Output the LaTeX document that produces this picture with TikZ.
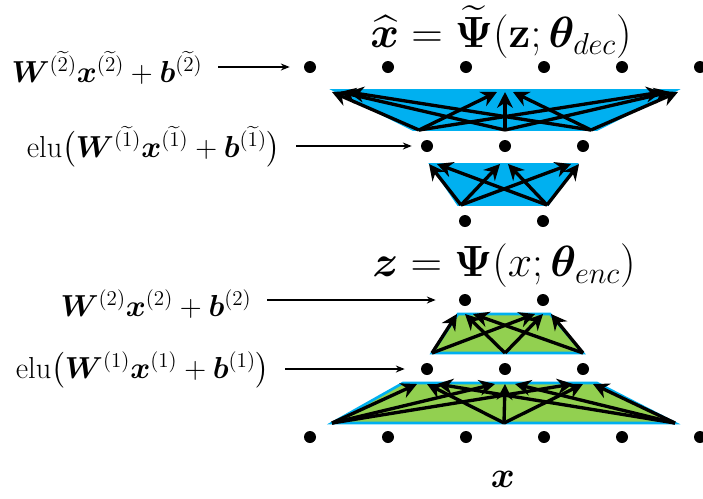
\documentclass[tikz,border=0pt]{standalone}
\usepackage{amsmath}
\usepackage{amssymb}
\usepackage{bm}
\usepackage{xcolor}
\usepackage{tikz}
\usetikzlibrary{arrows.meta, positioning, calc}
\definecolor{layerblue}{HTML}{00B0F0}
\definecolor{layergreen}{HTML}{92D050}

\begin{document}
\begin{tikzpicture}[x=0.02cm, y=-0.02cm, >=Stealth]
    \tikzstyle{neuron} = [circle, fill=black, inner sep=0pt, minimum size=0.24cm]
    \tikzstyle{formula} = [anchor=east, inner xsep=0.3cm, inner ysep=0pt, font=\fontsize{17}{20}\selectfont]
    \tikzstyle{heading} = [inner sep=0pt, font=\fontsize{23.5}{28}\selectfont]
    \tikzstyle{wire} = [draw, line width=1.9pt, -{Stealth[length=9pt, width=9pt]}]
    \tikzstyle{pointer} = [draw, line width=0.8pt, -{Stealth[length=5pt, width=4pt]}]
    \tikzstyle{bluelayer} = [fill=layerblue, draw=layerblue, line width=1pt]
    \tikzstyle{greenlayer} = [fill=layergreen, draw=layerblue, line width=1.5pt]

    \useasboundingbox (0,0) rectangle (703,498);

    % input layer
    \node [neuron] (x1) at (310,437) {};
    \node [neuron] (x2) at (388,437) {};
    \node [neuron] (x3) at (466,437) {};
    \node [neuron] (x4) at (544,437) {};
    \node [neuron] (x5) at (622,437) {};
    \node [neuron] (x6) at (700,437) {};
    % encoder
    \node [neuron] (h1) at (427,369) {};
    \node [neuron] (h2) at (505,369) {};
    \node [neuron] (h3) at (583,369) {};
    \node [neuron] (z1) at (465,300) {};
    \node [neuron] (z2) at (543,300) {};
    % decoder
    \node [neuron] (dz1) at (465,221) {};
    \node [neuron] (dz2) at (543,221) {};
    \node [neuron] (g1) at (427,146) {};
    \node [neuron] (g2) at (505,146) {};
    \node [neuron] (g3) at (583,146) {};
    \node [neuron] (y1) at (310,67) {};
    \node [neuron] (y2) at (388,67) {};
    \node [neuron] (y3) at (466,67) {};
    \node [neuron] (y4) at (544,67) {};
    \node [neuron] (y5) at (622,67) {};
    \node [neuron] (y6) at (700,67) {};

    % layer bodies
    \path [greenlayer] (332,423) -- (675,423) -- (597,383) -- (403,383) -- cycle;
    \path [greenlayer] (432,353) -- (583,353) -- (550,314) -- (458,314) -- cycle;
    \path [bluelayer] (458,205) -- (548,205) -- (577,164) -- (430,164) -- cycle;
    \path [bluelayer] (413,130) -- (597,130) -- (677,90) -- (333,90) -- cycle;

    \coordinate (eL) at (332,423);
    \coordinate (eM) at (504,423);
    \coordinate (eR) at (675,423);
    \coordinate (fL) at (432,353);
    \coordinate (fM) at (505,353);
    \coordinate (fR) at (583,353);
    \coordinate (dL) at (433,164);
    \coordinate (dM) at (504,164);
    \coordinate (dR) at (575,164);
    \coordinate (cL) at (340,92);
    \coordinate (cM) at (505,92);
    \coordinate (cR) at (670,92);

    \foreach \s/\o in {eL/-10, eM/0, eR/10}
        \foreach \t in {h1, h2, h3}
            \path [wire] (\s) -- ($(\t)+(\o,15)$);
    \foreach \s/\o in {fL/-8, fM/0, fR/8}
        \foreach \t in {z1, z2}
            \path [wire] (\s) -- ($(\t)+(\o,14)$);
    \foreach \s/\o in {dz1/-4, dz2/4}
        \foreach \t in {dL, dM, dR}
            \path [wire] ($(\s)+(\o,-16)$) -- ($(\t)+(\o,0)$);
    \foreach \s/\o in {g1/-8, g2/0, g3/8}
        \foreach \t in {cL, cM, cR}
            \path [wire] ($(\s)+(\o,-16)$) -- ($(\t)+(\o,0)$);

    % formulas
    \node [heading] (dectitle) at (501,32) {$\widehat{\bm{x}} = \widetilde{\bm{\Psi}}(\mathbf{z};\bm{\theta}_{dec})$};
    \node [heading] (enctitle) at (504,266) {$\bm{z} = \bm{\Psi}(x;\bm{\theta}_{enc})$};
    \node [heading, font=\fontsize{22}{26}\selectfont] (input) at (503,479) {$\bm{x}$};

    \node [formula] (labA) at (218,68) {$\bm{W}^{(\widetilde{2})}\bm{x}^{(\widetilde{2})}+\bm{b}^{(\widetilde{2})}$};
    \node [formula] (labB) at (296,147) {$\mathrm{elu}\big(\bm{W}^{(\widetilde{1})}\bm{x}^{(\widetilde{1})}+\bm{b}^{(\widetilde{1})}\big)$};
    \node [formula] (labC) at (267,304) {$\bm{W}^{(2)}\bm{x}^{(2)}+\bm{b}^{(2)}$};
    \node [formula] (labD) at (285,370) {$\mathrm{elu}\big(\bm{W}^{(1)}\bm{x}^{(1)}+\bm{b}^{(1)}\big)$};

    \path [pointer, shorten >=0.28cm] (labA.east |- y1) -- (y1.west);
    \path [pointer, shorten >=0.18cm] (labB.east |- g1) -- (g1.west);
    \path [pointer, shorten >=0.46cm] (labC.east |- z1) -- (z1.west);
    \path [pointer, shorten >=0.32cm] (labD.east |- h1) -- (h1.west);
\end{tikzpicture}
\end{document}
